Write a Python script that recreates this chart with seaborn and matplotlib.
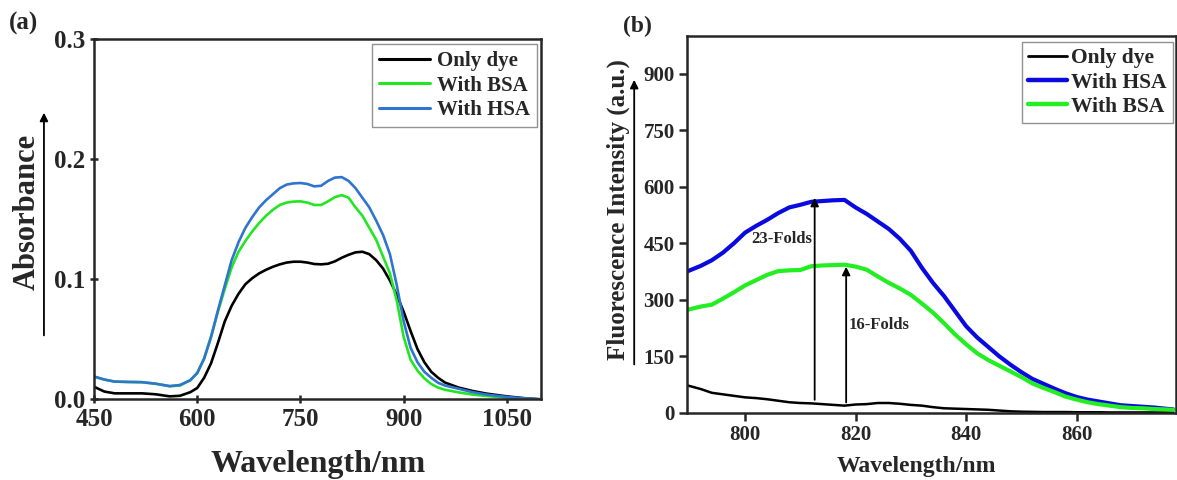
import numpy as np
import pandas as pd
import matplotlib
matplotlib.use("Agg")
import matplotlib.pyplot as plt
import seaborn as sns

# ---------------- data: panel (a) absorbance ----------------
wl_a = [450, 465, 480, 500, 520, 540, 560, 575, 590, 600, 610, 620, 630, 640, 650,
        660, 670, 680, 690, 700, 710, 720, 730, 740, 750, 760, 770, 780, 790, 800,
        810, 820, 830, 840, 850, 860, 870, 880, 890, 900, 910, 920, 930, 940, 950,
        960, 980, 1000, 1020, 1050, 1075, 1100]
abs_dye = [0.0105, 0.0065, 0.005, 0.005, 0.005, 0.0042, 0.0025, 0.003, 0.006, 0.0095,
           0.018, 0.030, 0.047, 0.065, 0.078, 0.088, 0.096, 0.101, 0.105, 0.108,
           0.1105, 0.1125, 0.114, 0.1147, 0.1147, 0.114, 0.1128, 0.1125, 0.113, 0.115,
           0.118, 0.1205, 0.1225, 0.123, 0.121, 0.116, 0.109, 0.099, 0.087, 0.073,
           0.057, 0.042, 0.031, 0.023, 0.018, 0.014, 0.0098, 0.007, 0.0048, 0.0025,
           0.001, 0.0]
abs_bsa = [0.019, 0.0165, 0.0148, 0.0145, 0.0143, 0.013, 0.011, 0.0115, 0.016, 0.022,
           0.034, 0.052, 0.073, 0.092, 0.110, 0.123, 0.132, 0.140, 0.147, 0.153,
           0.158, 0.162, 0.164, 0.1648, 0.165, 0.164, 0.162, 0.162, 0.165, 0.1685,
           0.1702, 0.168, 0.160, 0.153, 0.143, 0.133, 0.119, 0.105, 0.082, 0.052,
           0.033, 0.024, 0.0175, 0.0128, 0.0098, 0.008, 0.0058, 0.004, 0.0028, 0.0014,
           0.0005, 0.0]
abs_hsa = [0.019, 0.0165, 0.0148, 0.0145, 0.0143, 0.013, 0.011, 0.012, 0.016, 0.022,
           0.034, 0.052, 0.074, 0.095, 0.116, 0.131, 0.143, 0.152, 0.160, 0.166,
           0.171, 0.176, 0.179, 0.180, 0.1803, 0.1795, 0.1775, 0.178, 0.182, 0.1848,
           0.1852, 0.182, 0.176, 0.168, 0.160, 0.149, 0.137, 0.121, 0.095, 0.065,
           0.043, 0.031, 0.023, 0.018, 0.0138, 0.0115, 0.0088, 0.006, 0.004, 0.002,
           0.0008, 0.0]
labels_a = ["Only dye", "With BSA", "With HSA"]
colors_a = ["#000000", "#22e622", "#2f74d0"]

# ---------------- data: panel (b) fluorescence ----------------
wl_b = [789.5, 792, 794, 796, 798, 800, 802, 804, 806, 808, 810, 812, 814, 816, 818,
        820, 822, 824, 826, 828, 830, 832, 834, 836, 838, 840, 842, 844, 846, 848,
        850, 852, 854, 856, 858, 860, 862, 864, 866, 868, 870, 872, 874, 876, 877.5]
fl_dye = [73, 63, 53, 49, 45, 41, 39, 36, 32, 28, 26, 25, 23, 21, 19,
          22, 23, 26, 26, 24, 21, 19, 15, 12, 11, 10, 9, 8, 6, 4,
          3, 2.5, 2, 2, 2, 1.5, 1.5, 1.5, 1, 1, 1, 1, 1, 1, 1]
fl_hsa = [375, 390, 405, 425, 450, 478, 496, 512, 530, 545, 552, 560, 562, 564, 565,
          545, 528, 508, 488, 462, 430, 385, 345, 310, 270, 230, 200, 175, 150, 128,
          108, 90, 77, 64, 52, 42, 35, 30, 25, 20, 18, 16, 14, 11, 9]
fl_bsa = [273, 282, 287, 303, 320, 338, 352, 366, 376, 378, 379, 389, 391, 392, 393,
          388, 380, 362, 345, 330, 313, 290, 266, 238, 208, 182, 158, 140, 125, 110,
          95, 78, 66, 55, 43, 35, 28, 23, 19, 15, 13, 12, 10, 9, 8]
labels_b = ["Only dye", "With HSA", "With BSA"]
colors_b = ["#000000", "#0a0ae0", "#22ee22"]

# fold annotations
fold_x = [812.6, 818.3]
fold_y0 = [27, 20]
fold_y1 = [578, 395]
fold_text = ["23-Folds", "16-Folds"]
fold_tx = [806.6, 824.3]
fold_ty = [460, 232]

sns.set_theme(style="ticks")
plt.rcParams["font.family"] = ["Liberation Serif", "DejaVu Serif"]
plt.rcParams["font.weight"] = "bold"

fig = plt.figure(figsize=(11.77, 4.8), dpi=100)
fig.patch.set_facecolor("white")

# ---------------- panel (a) ----------------
ax_a = fig.add_axes([0.0799, 0.168, 0.38, 0.75])
df_a = pd.DataFrame({
    "wl": wl_a * 3,
    "val": abs_dye + abs_bsa + abs_hsa,
    "series": sum([[l] * len(wl_a) for l in labels_a], []),
})
sns.lineplot(data=df_a, x="wl", y="val", hue="series", hue_order=labels_a,
             palette=colors_a, linewidth=1.9, ax=ax_a, sort=False)
ax_a.set_xlim(450, 1100)
ax_a.set_ylim(0, 0.3)
ax_a.set_xticks([450, 600, 750, 900, 1050])
ax_a.set_yticks([0.0, 0.1, 0.2, 0.3])
ax_a.set_yticklabels(["0.0", "0.1", "0.2", "0.3"])
ax_a.tick_params(axis="both", labelsize=18, width=1.8, length=6, direction="inout", pad=3)
for lab in ax_a.get_xticklabels() + ax_a.get_yticklabels():
    lab.set_fontweight("bold")
for s in ax_a.spines.values():
    s.set_linewidth(1.8)
    s.set_visible(True)
ax_a.set_xlabel("Wavelength/nm", fontsize=23, fontweight="bold")
ax_a.set_ylabel("Absorbance", fontsize=22, fontweight="bold")
ax_a.xaxis.set_label_coords(0.50, -0.14)
ax_a.yaxis.set_label_coords(-0.118, 0.52)
ax_a.annotate("", xy=(-0.112, 0.804), xytext=(-0.112, 0.170), xycoords="axes fraction",
              textcoords="axes fraction", annotation_clip=False,
              arrowprops=dict(arrowstyle="-|>", color="black", lw=1.3, mutation_scale=12))
leg_a = ax_a.legend(loc="upper right", bbox_to_anchor=(0.99, 0.988), borderaxespad=0,
                    frameon=True, fancybox=False, edgecolor="#777777", handlelength=2.45,
                    borderpad=0.35, labelspacing=0.22, handletextpad=0.3,
                    prop={"weight": "bold", "size": 15})
leg_a.get_frame().set_linewidth(1.0)
for ln in leg_a.get_lines():
    ln.set_linewidth(2.2)

# ---------------- panel (b) ----------------
ax_b = fig.add_axes([0.5837, 0.140, 0.4155, 0.785])
df_b = pd.DataFrame({
    "wl": wl_b * 3,
    "val": fl_dye + fl_hsa + fl_bsa,
    "series": sum([[l] * len(wl_b) for l in labels_b], []),
})
sns.lineplot(data=df_b, x="wl", y="val", hue="series", hue_order=labels_b,
             palette=colors_b, size="series",
             sizes={"Only dye": 1.8, "With HSA": 3.0, "With BSA": 3.0},
             ax=ax_b, sort=False, legend="full")
ax_b.set_xlim(789.5, 878)
ax_b.set_ylim(0, 1000)
ax_b.set_xticks([800, 820, 840, 860])
ax_b.set_yticks([0, 150, 300, 450, 600, 750, 900])
ax_b.tick_params(axis="both", labelsize=15, width=1.8, length=6, direction="out", pad=3)
for lab in ax_b.get_xticklabels() + ax_b.get_yticklabels():
    lab.set_fontweight("bold")
for s in ax_b.spines.values():
    s.set_linewidth(1.8)
    s.set_visible(True)
ax_b.set_xlabel("Wavelength/nm", fontsize=17, fontweight="bold")
ax_b.set_ylabel("Fluorescence Intensity (a.u.)", fontsize=18, fontweight="bold")
ax_b.xaxis.set_label_coords(0.47, -0.115)
ax_b.yaxis.set_label_coords(-0.117, 0.54)
ax_b.annotate("", xy=(-0.108, 0.891), xytext=(-0.108, 0.121), xycoords="axes fraction",
              textcoords="axes fraction", annotation_clip=False,
              arrowprops=dict(arrowstyle="-|>", color="black", lw=1.3, mutation_scale=12))
for x, y0, y1, t, tx, ty in zip(fold_x, fold_y0, fold_y1, fold_text, fold_tx, fold_ty):
    ax_b.annotate("", xy=(x, y1), xytext=(x, y0),
                  arrowprops=dict(arrowstyle="-|>", color="black", lw=1.3, mutation_scale=12))
    ax_b.text(tx, ty, t, ha="center", va="center", fontsize=12, fontweight="bold")
leg_b = ax_b.legend(loc="upper right", bbox_to_anchor=(0.994, 0.985), borderaxespad=0,
                    frameon=True, fancybox=False, edgecolor="#777777", handlelength=1.8,
                    borderpad=0.3, labelspacing=0.2, handletextpad=0.2,
                    prop={"weight": "bold", "size": 15.5})
leg_b.get_frame().set_linewidth(1.0)
for ln, lw in zip(leg_b.get_lines(), [2.0, 3.2, 3.2]):
    ln.set_linewidth(lw)

fig.text(0.020, 0.952, "(a)", fontsize=18, fontweight="bold", ha="center", va="center")
fig.text(0.542, 0.944, "(b)", fontsize=17, fontweight="bold", ha="center", va="center")

fig.savefig("out.png", dpi=100, facecolor="white")
